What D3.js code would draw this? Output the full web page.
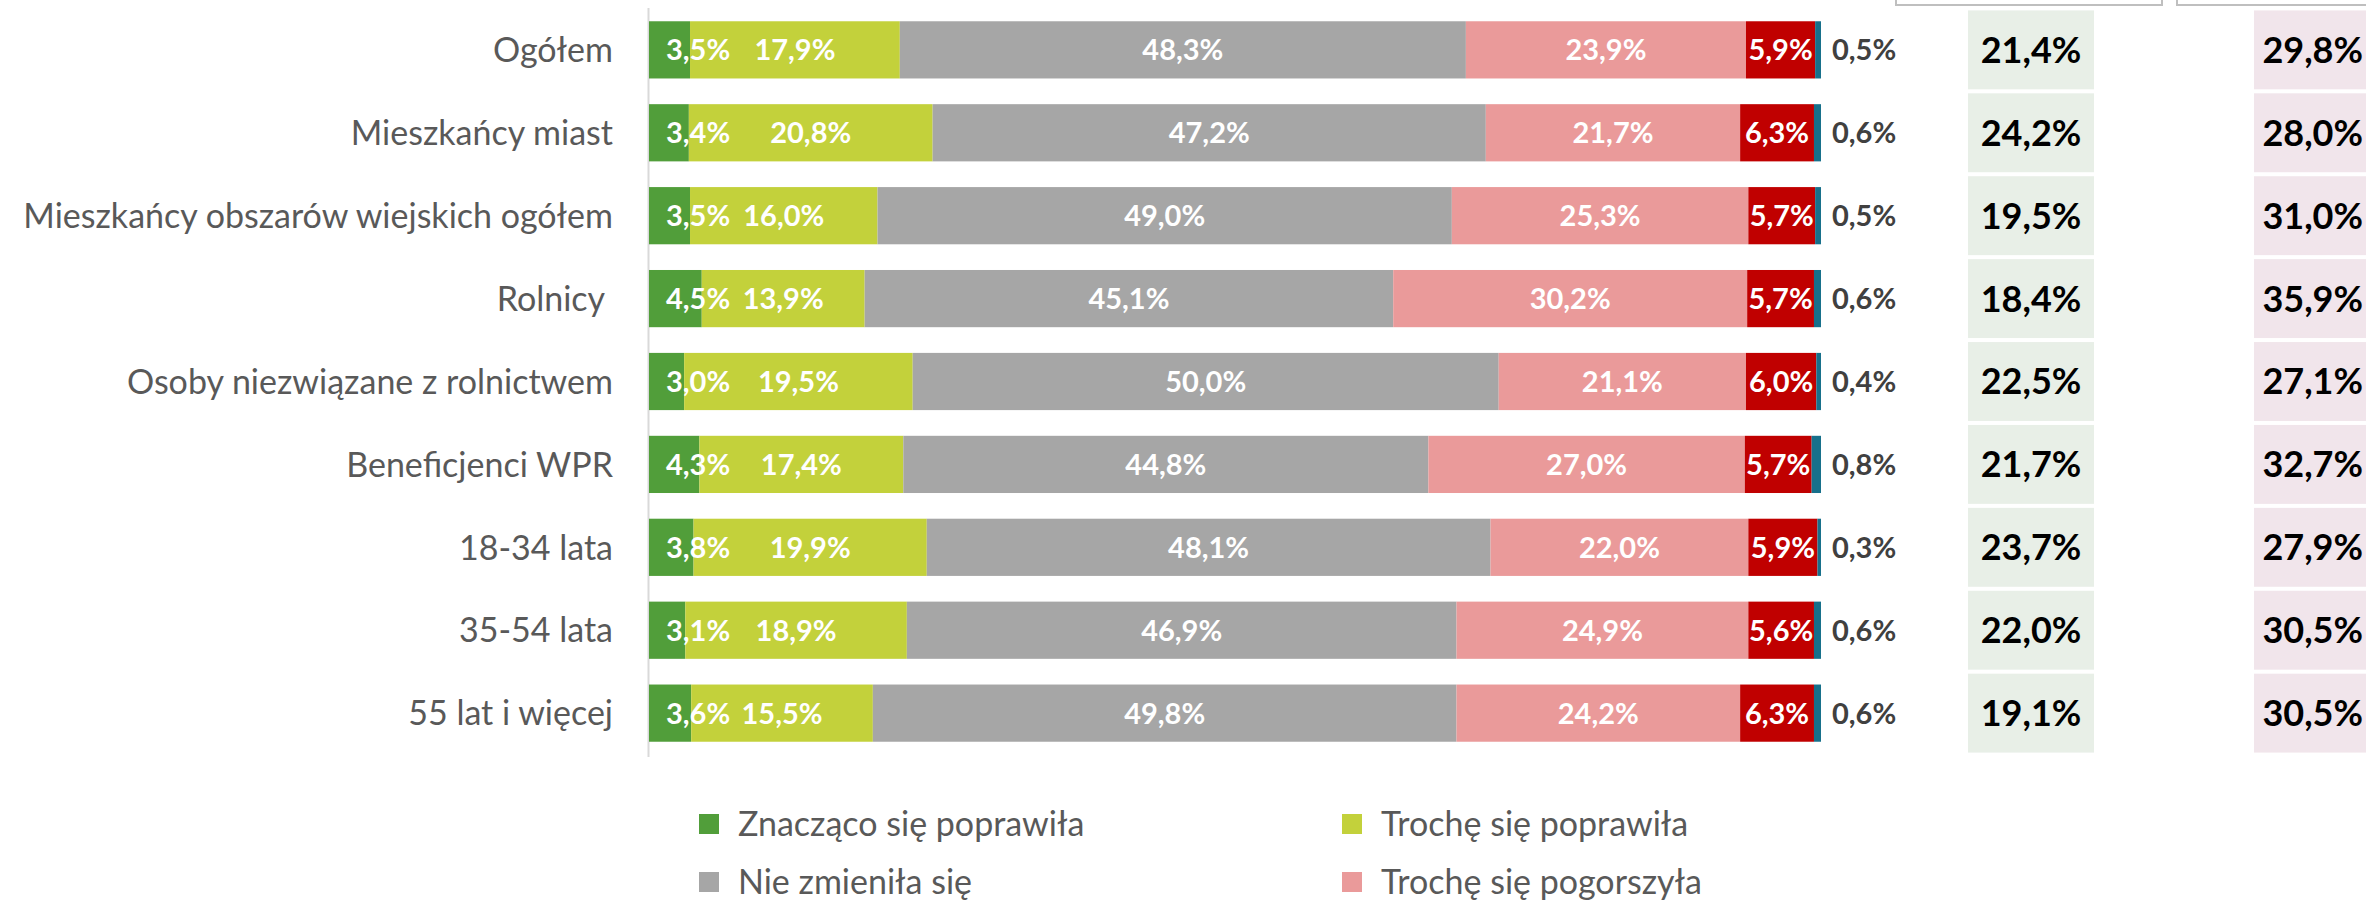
<!DOCTYPE html>
<html lang="pl">
<head>
  <meta charset="UTF-8" />
  <title>Sytuacja</title>
  <script src="https://d3js.org/d3.v7.min.js"></script>
  <style>
    body { margin: 0; background: #fff; }
    svg { display: block; font-family: Lato, "Open Sans", sans-serif; }
  </style>
</head>
<body>
  <div id="chart"></div>
<script>
  // data
  const categories = ["Ogółem", "Mieszkańcy miast", "Mieszkańcy obszarów wiejskich ogółem", "Rolnicy ",
    "Osoby niezwiązane z rolnictwem", "Beneficjenci WPR", "18-34 lata", "35-54 lata", "55 lat i więcej"]
  const seriesNames = ["Znacząco się poprawiła", "Trochę się poprawiła", "Nie zmieniła się",
    "Trochę się pogorszyła", "Znacząco się pogorszyła", "Trudno powiedzieć"]
  const znaczacoPoprawila = [3.5, 3.4, 3.5, 4.5, 3.0, 4.3, 3.8, 3.1, 3.6]
  const trochePoprawila = [17.9, 20.8, 16.0, 13.9, 19.5, 17.4, 19.9, 18.9, 15.5]
  const nieZmienila = [48.3, 47.2, 49.0, 45.1, 50.0, 44.8, 48.1, 46.9, 49.8]
  const trochePogorszyla = [23.9, 21.7, 25.3, 30.2, 21.1, 27.0, 22.0, 24.9, 24.2]
  const znaczacoPogorszyla = [5.9, 6.3, 5.7, 5.7, 6.0, 5.7, 5.9, 5.6, 6.3]
  const trudnoPowiedziec = [0.5, 0.6, 0.5, 0.6, 0.4, 0.8, 0.3, 0.6, 0.6]
  const poprawa = [21.4, 24.2, 19.5, 18.4, 22.5, 21.7, 23.7, 22.0, 19.1]
  const pogorszenie = [29.8, 28.0, 31.0, 35.9, 27.1, 32.7, 27.9, 30.5, 30.5]

  const colors = ["#519e3a", "#c3d13b", "#a6a6a6", "#ea9a9a", "#c00000", "#17708b"]
  const allSeries = [znaczacoPoprawila, trochePoprawila, nieZmienila, trochePogorszyla, znaczacoPogorszyla, trudnoPowiedziec]

  const width = 2366
  const height = 900
  const fmt = v => d3.format(".1f")(v).replace(".", ",") + "%"

  const svg = d3.select("#chart").append("svg")
    .attr("width", width)
    .attr("height", height)

  const xScale = d3.scaleLinear().domain([0, 100]).range([649, 1821])
  const yScale = d3.scaleBand().domain(categories).range([8, 755])
    .paddingInner(0.31).paddingOuter(0.16)

  // stacked rows
  const rows = categories.map((c, i) => {
    let acc = 0
    return allSeries.map((s, k) => {
      const seg = { cat: c, k: k, v: s[i], x0: acc, x1: acc + s[i] }
      acc += s[i]
      return seg
    })
  })

  // axis line on the left
  svg.append("line")
    .attr("x1", xScale(0) - 0.5).attr("x2", xScale(0) - 0.5)
    .attr("y1", 8).attr("y2", 757)
    .attr("stroke", "#d9d9d9").attr("stroke-width", 2)

  const rowG = svg.selectAll("g.row")
    .data(rows)
    .join("g")
    .attr("class", "row")

  rowG.selectAll("rect")
    .data(d => d)
    .join("rect")
    .attr("x", d => xScale(d.x0))
    .attr("y", d => yScale(d.cat))
    .attr("width", d => xScale(d.x1) - xScale(d.x0))
    .attr("height", yScale.bandwidth())
    .attr("fill", d => colors[d.k])

  // labels in bars
  rowG.selectAll("text.val")
    .data(d => d)
    .join("text")
    .attr("class", "val")
    .attr("x", d => {
      if (d.k == 0) return xScale(0) + 17
      if (d.k == 5) return xScale(d.x1) + 11
      return xScale((d.x0 + d.x1) / 2)
    })
    .attr("y", d => yScale(d.cat) + yScale.bandwidth() / 2)
    .attr("dy", "0.36em")
    .attr("text-anchor", d => (d.k == 0 || d.k == 5) ? "start" : "middle")
    .attr("font-size", 29)
    .attr("font-weight", "bold")
    .attr("fill", d => d.k == 5 ? "#404040" : "#fff")
    .text(d => fmt(d.v))

  // category labels
  svg.append("g")
    .selectAll("text")
    .data(categories)
    .join("text")
    .attr("x", xScale(0) - 36)
    .attr("y", d => yScale(d) + yScale.bandwidth() / 2)
    .attr("dy", "0.36em")
    .attr("text-anchor", "end")
    .attr("font-size", 34)
    .attr("fill", "#595959")
    .style("white-space", "pre")
    .text(d => d)

  // side columns
  const cellH = yScale.step() - 4
  const columns = [
    { values: poprawa, x: 1968, w: 126, fill: "#e8efe7", tx: 2031, anchor: "middle" },
    { values: pogorszenie, x: 2254, w: 126, fill: "#f1e5eb", tx: 2363, anchor: "end" }
  ]
  columns.forEach(col => {
    const g = svg.append("g")
    g.selectAll("rect")
      .data(categories)
      .join("rect")
      .attr("x", col.x)
      .attr("y", d => yScale(d) + yScale.bandwidth() / 2 - cellH / 2)
      .attr("width", col.w)
      .attr("height", cellH)
      .attr("fill", col.fill)
    g.selectAll("text")
      .data(col.values)
      .join("text")
      .attr("x", col.tx)
      .attr("y", (d, i) => yScale(categories[i]) + yScale.bandwidth() / 2)
      .attr("dy", "0.36em")
      .attr("text-anchor", col.anchor)
      .attr("font-size", 36)
      .attr("font-weight", "bold")
      .attr("fill", "#000")
      .text(d => fmt(d))
  })

  // header boxes (cut off at the top)
  svg.append("rect").attr("x", 1896).attr("y", -60).attr("width", 266).attr("height", 65)
    .attr("fill", "none").attr("stroke", "#bfbfbf").attr("stroke-width", 2)
  svg.append("rect").attr("x", 2177).attr("y", -60).attr("width", 240).attr("height", 65)
    .attr("fill", "none").attr("stroke", "#bfbfbf").attr("stroke-width", 2)

  // legend (only first two rows fit in the picture)
  const legendItems = seriesNames.slice(0, 4)
  const legend = svg.append("g")
    .selectAll("g")
    .data(legendItems)
    .join("g")
    .attr("transform", (d, i) => `translate(${i % 2 == 0 ? 699 : 1342},${i < 2 ? 814 : 872})`)
  legend.append("rect")
    .attr("width", 20).attr("height", 20)
    .attr("fill", (d, i) => colors[i])
  legend.append("text")
    .attr("x", 39)
    .attr("y", 10)
    .attr("dy", "0.36em")
    .attr("font-size", 34)
    .attr("fill", "#595959")
    .text(d => d)
</script>
</body>
</html>
